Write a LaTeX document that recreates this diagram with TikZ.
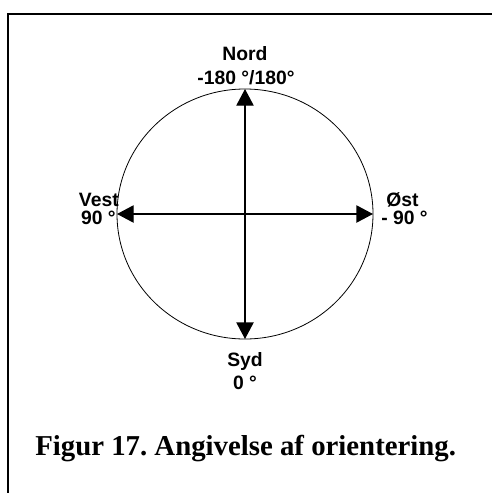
\documentclass[tikz,border=0pt]{standalone}
\usepackage{fontspec}
\setmainfont{Liberation Serif}
\newfontfamily\labelfont{Liberation Sans}
\usetikzlibrary{arrows.meta}

\tikzset{
  dirlabel/.style={font=\labelfont\bfseries\fontsize{14.5}{16}\selectfont, inner sep=0pt},
  dirarrow/.style={line width=1pt, -{Triangle[length=12.5pt, width=13pt]}},
}

\begin{document}
\begin{tikzpicture}[x=0.75pt, y=-0.75pt]
\useasboundingbox (0,0) rectangle (492,493);
% frame, open on the right and at the bottom
\draw[line width=1.6pt] (500,14) -- (8,14) -- (8,500);

% compass circle
\coordinate (c) at (245,214);
\draw[line width=0.6pt] (c) ellipse [x radius=128, y radius=125];
\coordinate (n) at (245,89);
\coordinate (s) at (245,339);
\coordinate (w) at (117,214);
\coordinate (e) at (373,214);
\draw[dirarrow] (c) -- (n);
\draw[dirarrow] (c) -- (s);
\draw[dirarrow] (c) -- (w);
\draw[dirarrow] (c) -- (e);

% labels
\node[dirlabel] (nord) at (245,54) {Nord};
\node[dirlabel] (nordgrad) at (246,78) {-180 °/180°};
\node[dirlabel, anchor=east] (vest) at (119,200) {Vest};
\node[dirlabel, anchor=east] (vestgrad) at (116,218) {90 °};
\node[dirlabel, anchor=west] (oest) at (386,200) {Øst};
\node[dirlabel, anchor=west] (oestgrad) at (381,218) {- 90 °};
\node[dirlabel] (syd) at (245,361) {Syd};
\node[dirlabel] (sydgrad) at (245,383) {0 °};

% caption
\node[anchor=base west, inner sep=0pt, font=\bfseries\fontsize{21.6}{24}\selectfont] (figtekst) at (35,455) {\frenchspacing Figur 17. Angivelse af orientering.};
\end{tikzpicture}
\end{document}
